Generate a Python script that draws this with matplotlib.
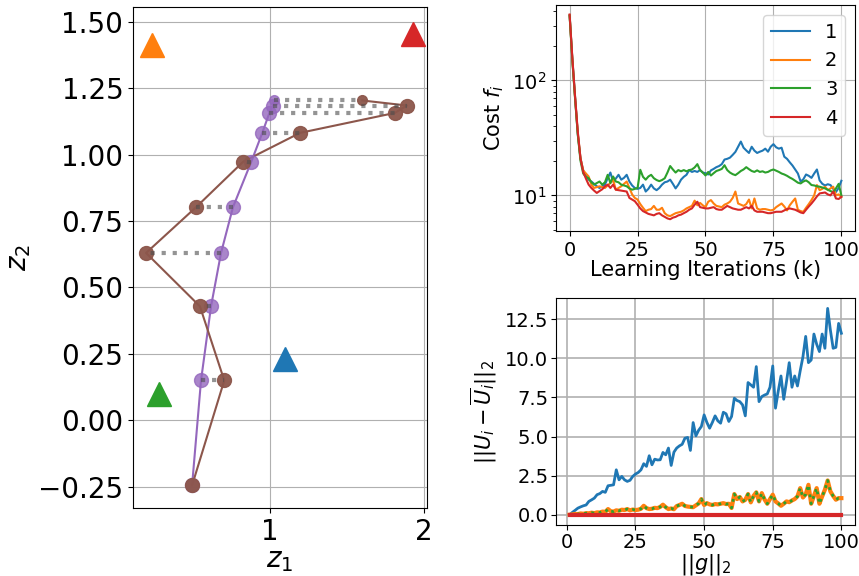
import numpy as np
import matplotlib.pyplot as plt

# ---------------------------------------------------------------------------------------
# left panel: agent positions z (purple), their estimates (brown), targets (triangles)
z1_agent = [0.494, 0.552, 0.617, 0.682, 0.760, 0.877, 0.950, 0.996, 1.017, 1.026]
z2_agent = [-0.245, 0.150, 0.429, 0.630, 0.803, 0.971, 1.082, 1.157, 1.185, 1.204]
z1_est = [0.494, 0.703, 0.545, 0.195, 0.521, 0.827, 1.195, 1.810, 1.890, 1.600]
z2_est = [-0.245, 0.150, 0.429, 0.630, 0.803, 0.974, 1.082, 1.157, 1.185, 1.204]

target_z1 = [1.10, 0.234, 0.28, 1.93]
target_z2 = [0.229, 1.413, 0.10, 1.455]
target_colors = ["tab:blue", "tab:orange", "tab:green", "tab:red"]

# ---------------------------------------------------------------------------------------
# top right: cost of each agent over learning iterations
k = np.arange(0, 101)
cost_1 = [370, 155, 72, 34, 21, 16.5, 14.8, 13.7, 13.2, 12.6,
          12.0, 11.6, 12.0, 12.4, 14.1, 15.8, 13.2, 14.0, 15.1, 13.7,
          14.2, 15.1, 13.2, 12.2, 11.6, 11.4, 11.6, 12.4, 10.8, 11.4,
          12.4, 11.5, 11.1, 11.6, 12.4, 13.0, 13.2, 13.7, 12.6, 11.5,
          12.4, 13.7, 14.5, 15.1, 16.6, 16.0, 16.3, 16.0, 16.6, 15.8,
          15.6, 15.2, 16.5, 17.0, 17.6, 18.0, 18.7, 20.5, 20.8, 21.3,
          22.5, 23.9, 26.5, 29.4, 26.0, 24.6, 23.4, 26.5, 24.5, 23.4,
          24.0, 24.5, 25.5, 24.0, 26.5, 27.9, 26.2, 25.5, 26.0, 21.7,
          20.8, 19.4, 18.2, 16.8, 15.5, 13.2, 13.8, 15.2, 14.8, 14.2,
          15.5, 16.8, 13.5, 12.6, 12.2, 12.5, 12.3, 11.4, 10.7, 11.6,
          13.4]
cost_2 = [370, 152, 71, 35, 21, 16.5, 15.5, 14.6, 12.4, 11.6,
          11.8, 12.0, 11.8, 11.6, 12.2, 12.8, 13.7, 11.2, 11.6, 12.0,
          12.6, 13.2, 11.6, 10.2, 9.5, 9.2, 8.4, 7.8, 7.3, 7.5,
          7.6, 8.1, 7.5, 7.5, 7.8, 7.0, 6.7, 6.6, 6.8, 7.0,
          7.1, 7.2, 7.4, 7.7, 7.9, 8.1, 9.0, 8.2, 8.6, 8.2,
          7.9, 8.8, 9.1, 8.5, 8.1, 8.0, 7.9, 8.3, 8.5, 8.8,
          9.5, 10.8, 8.5, 8.3, 8.1, 8.4, 9.2, 7.7, 9.4, 7.7,
          7.5, 7.6, 7.6, 7.5, 7.4, 7.5, 7.9, 8.2, 8.5, 8.0,
          7.4, 8.2, 8.8, 9.4, 7.5, 7.3, 7.2, 7.8, 8.4, 9.1,
          10.0, 12.3, 11.1, 11.4, 11.9, 11.1, 11.5, 11.9, 10.0, 10.2,
          9.7]
cost_3 = [365, 150, 70, 34, 20, 15.5, 14.5, 14.1, 13.0, 12.4,
          12.8, 13.2, 12.4, 13.0, 15.1, 12.8, 14.6, 13.2, 13.0, 12.4,
          12.2, 12.0, 11.5, 11.2, 11.4, 11.6, 16.7, 14.5, 13.7, 14.6,
          15.1, 14.1, 13.6, 13.3, 13.6, 14.1, 15.8, 18.0, 16.8, 15.8,
          16.6, 16.2, 16.6, 16.2, 16.6, 16.8, 17.5, 18.7, 16.6, 15.8,
          14.9, 16.0, 14.9, 15.6, 16.3, 16.6, 17.0, 18.3, 16.6, 15.8,
          15.3, 15.0, 15.6, 16.3, 16.8, 17.6, 16.9, 16.3, 16.0, 16.5,
          16.0, 16.2, 15.8, 16.0, 16.5, 16.8, 16.4, 16.0, 15.5, 15.2,
          14.8, 14.3, 13.9, 13.4, 12.9, 12.7, 13.2, 13.5, 13.0, 12.3,
          12.2, 12.0, 11.9, 11.7, 11.5, 11.2, 10.9, 10.7, 11.5, 12.6,
          10.0]
cost_4 = [375, 158, 73, 36, 21, 16, 14, 12.4, 11.6, 11.0,
          10.5, 10.9, 11.3, 12.0, 12.4, 11.6, 12.4, 11.2, 11.1, 11.0,
          10.9, 10.8, 9.5, 9.2, 8.9, 8.3, 7.7, 7.3, 7.1, 6.9,
          6.8, 6.7, 6.9, 7.0, 6.7, 6.5, 6.3, 6.2, 6.4, 6.5,
          6.7, 6.8, 7.0, 7.2, 7.5, 7.7, 8.3, 8.8, 7.9, 7.8,
          7.7, 7.7, 7.8, 7.9, 7.6, 7.5, 7.5, 7.8, 8.1, 7.9,
          7.7, 7.6, 7.5, 7.5, 7.7, 7.9, 7.7, 8.1, 7.4, 7.2,
          7.2, 7.2, 7.1, 7.0, 7.0, 7.1, 7.2, 7.2, 7.2, 7.4,
          7.6, 7.7, 7.6, 7.5, 7.3, 7.1, 7.0, 7.5, 8.0, 8.5,
          9.1, 9.8, 10.4, 10.5, 10.6, 10.2, 10.0, 10.8, 9.4, 9.3,
          9.7]

# ---------------------------------------------------------------------------------------
# bottom right: deviation of each agent vs ||g||_2
g = np.arange(1, 101)
dev_1 = [0.0, 0.15, 0.28, 0.42, 0.5, 0.57, 0.62, 0.85, 0.95, 1.06,
         1.28, 1.35, 1.49, 1.43, 1.85, 1.88, 1.91, 2.87, 2.23, 2.45,
         2.23, 2.13, 2.2, 2.45, 2.6, 2.7, 2.87, 3.26, 3.09, 3.77,
         3.19, 3.55, 3.5, 3.51, 3.98, 3.83, 4.26, 3.15, 4.0, 4.26,
         4.4, 4.5, 4.89, 4.94, 4.11, 5.89, 5.04, 5.4, 5.64, 6.38,
         5.9, 5.53, 5.9, 6.32, 6.0, 5.85, 6.55, 6.45, 5.96, 6.28,
         7.45, 7.3, 7.23, 7.02, 6.32, 8.45, 8.3, 8.15, 9.47, 7.23,
         7.55, 7.65, 7.72, 8.15, 9.51, 6.81, 7.9, 8.87, 7.38, 8.5,
         9.72, 8.15, 8.87, 8.23, 9.2, 10.1, 11.4, 9.72, 9.89, 11.55,
         10.9, 10.43, 11.55, 10.64, 13.19, 11.8, 10.64, 10.7, 12.23, 11.6]
dev_2 = [0.0, 0.02, 0.05, 0.04, 0.08, 0.06, 0.1, 0.09, 0.13, 0.1,
         0.15, 0.14, 0.2, 0.18, 0.36, 0.22, 0.2, 0.28, 0.25, 0.32,
         0.3, 0.36, 0.28, 0.33, 0.3, 0.32, 0.38, 0.57, 0.42, 0.36,
         0.38, 0.44, 0.42, 0.5, 0.64, 0.48, 0.36, 0.4, 0.35, 0.55,
         0.62, 0.7, 0.56, 0.52, 0.5, 0.48, 0.6, 0.72, 1.0, 0.62,
         0.74, 0.66, 0.62, 0.68, 0.66, 0.7, 0.74, 0.68, 0.7, 0.43,
         1.32, 1.0, 1.13, 0.85, 0.95, 1.32, 0.79, 1.2, 1.43, 0.85,
         1.38, 0.98, 0.7, 1.0, 1.28, 0.85, 0.72, 0.57, 0.7, 0.85,
         0.8, 0.91, 1.0, 1.17, 1.7, 1.1, 1.3, 1.91, 0.7, 1.2,
         1.7, 0.7, 1.17, 1.6, 2.19, 1.49, 1.2, 0.96, 1.06, 1.06]
dev_3 = list(dev_2)
dev_4 = [0.0] * 100

# ---------------------------------------------------------------------------------------
fig = plt.figure(figsize=(8.59, 5.76), dpi=100)

ax = fig.add_axes([0.1548, 0.1181, 0.3423, 0.8698])
ax.grid(True, color="#b0b0b0", linewidth=0.8, zorder=0)
ax.plot(z1_agent, z2_agent, "-", color="tab:purple", linewidth=1.5, zorder=2)
ax.plot(z1_agent[:-1], z2_agent[:-1], "o", color="tab:purple", markersize=10, alpha=0.8, zorder=3)
ax.plot(z1_agent[-1:], z2_agent[-1:], "o", color="tab:purple", markersize=7, alpha=0.8, zorder=3)
ax.plot(z1_est, z2_est, "-", color="tab:brown", linewidth=1.5, zorder=2)
ax.plot(z1_est[:-1], z2_est[:-1], "o", color="tab:brown", markersize=10, alpha=0.95, zorder=3)
ax.plot(z1_est[-1:], z2_est[-1:], "o", color="tab:brown", markersize=7, alpha=0.95, zorder=3)
for xa, ya, xe, ye in zip(z1_agent, z2_agent, z1_est, z2_est):
    ax.plot([xa, xe], [ya, ye], ":", color="0.3", alpha=0.6, linewidth=3, zorder=4)
for xt, yt, c in zip(target_z1, target_z2, target_colors):
    ax.plot(xt, yt, "^", color=c, markersize=17, zorder=3)
ax.set_xlim(0.11, 2.02)
ax.set_ylim(-0.33, 1.556)
ax.set_xticks([1, 2])
ax.set_yticks(np.arange(-0.25, 1.51, 0.25))
ax.tick_params(labelsize=20)
ax.set_xlabel("$z_1$", fontsize=20, labelpad=0)
ax.set_ylabel("$z_2$", fontsize=20)

ax2 = fig.add_axes([0.6473, 0.599, 0.348, 0.392])
for i, cost in enumerate([cost_1, cost_2, cost_3, cost_4]):
    ax2.plot(k, cost, label=str(i + 1))
ax2.set_yscale("log")
ax2.set_ylim(4.9, 452)
ax2.set_xticks([0, 25, 50, 75, 100])
ax2.grid(True)
ax2.tick_params(labelsize=14)
ax2.set_xlabel("Learning Iterations (k)", fontsize=15, labelpad=0)
ax2.set_ylabel("Cost $f_i$", fontsize=15)
ax2.legend(loc="upper right", fontsize=14)

ax3 = fig.add_axes([0.6473, 0.0885, 0.348, 0.394])
ax3.plot(g, dev_1, color="tab:blue", linewidth=2)
ax3.plot(g, dev_2, color="tab:orange", linewidth=3)
ax3.plot(g, dev_3, ":", color="tab:green", linewidth=2)
ax3.plot(g, dev_4, color="tab:red", linewidth=3)
ax3.set_xticks([0, 25, 50, 75, 100])
ax3.set_yticks(np.arange(0, 12.6, 2.5))
ax3.grid(True, linewidth=1.2)
ax3.tick_params(labelsize=14, pad=2)
ax3.set_xlabel("$||g||_2$", fontsize=15, labelpad=0)
ax3.set_ylabel(r"$||U_i - \overline{U}_i||_2$", fontsize=15)

plt.savefig("out.png", dpi=100)
